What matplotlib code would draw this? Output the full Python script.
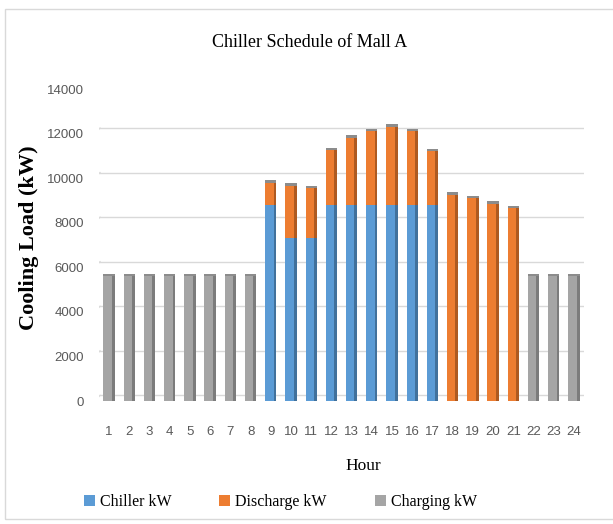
import numpy as np
import matplotlib
matplotlib.use("Agg")
import matplotlib.pyplot as plt
from matplotlib.patches import Rectangle, Patch

# Data (kW)
hours = list(range(1, 25))
chiller_kw = [0, 0, 0, 0, 0, 0, 0, 0,
              8800, 7300, 7300, 8800, 8800, 8800, 8800, 8800, 8800,
              0, 0, 0, 0, 0, 0, 0]
discharge_kw = [0, 0, 0, 0, 0, 0, 0, 0,
                1000, 2350, 2250, 2450, 3000, 3300, 3500, 3300, 2400,
                9250, 9100, 8850, 8650, 0, 0, 0]
charging_kw = [5600, 5600, 5600, 5600, 5600, 5600, 5600, 5600,
               0, 0, 0, 0, 0, 0, 0, 0, 0,
               0, 0, 0, 0, 5600, 5600, 5600]
y_ticks = [0, 2000, 4000, 6000, 8000, 10000, 12000, 14000]

# colours: front face / side face
front = {"Chiller kW": "#5B9BD5", "Discharge kW": "#ED7D31", "Charging kW": "#A5A5A5"}
side = {"Chiller kW": "#41719C", "Discharge kW": "#AE5A21", "Charging kW": "#7C7C7C"}

serif = "Liberation Serif"
tick_font = "Liberation Sans"

fig = plt.figure(figsize=(6.13, 5.24), dpi=100)
fig.patches.append(Rectangle((5 / 613, 5 / 524), 1.2, 510 / 524, transform=fig.transFigure,
                             fill=False, edgecolor="#d9d9d9", linewidth=1.0))

ax = fig.add_axes([0.1615, 0.2347, 0.7912, 0.5953])
x = np.array(hours)
w = 0.42
sw = 0.14

series = [("Chiller kW", chiller_kw), ("Discharge kW", discharge_kw), ("Charging kW", charging_kw)]
bottom = np.zeros(len(hours))
for name, vals in series:
    vals = np.array(vals, dtype=float)
    # front face
    ax.bar(x - sw / 2, vals, width=w, bottom=bottom, color=front[name], linewidth=0, zorder=3)
    # darker side face, gives the 3D look
    ax.bar(x - sw / 2 + w / 2 + sw / 2, vals, width=sw, bottom=bottom, color=side[name],
           linewidth=0, zorder=3)
    bottom = bottom + vals

# small grey cap on top of every column
totals = bottom
ax.bar(x, np.full(len(hours), 120.0), width=w + sw, bottom=totals, color="#8c8c8c",
       linewidth=0, zorder=3)

for yv in y_ticks:
    ax.plot([0.55, 24.6], [yv + 250, yv + 250], color="#d9d9d9", linewidth=1.0, zorder=1)
    ax.plot([0.2, 0.55], [yv - 60, yv + 250], color="#d9d9d9", linewidth=1.0, zorder=1)

ax.set_xlim(0.5, 24.5)
ax.set_ylim(0, 14000)
ax.set_xticks(hours)
ax.set_xticklabels([str(h) for h in hours], fontsize=9.5, color="#595959", family=tick_font)
ax.set_yticks(y_ticks)
ax.set_yticklabels([str(v) for v in y_ticks], fontsize=9.5, color="#595959", family=tick_font)
ax.tick_params(axis="x", length=0, pad=18)
ax.tick_params(axis="y", length=0, pad=11)
for s in ax.spines.values():
    s.set_visible(False)
ax.patch.set_alpha(0)

fig.text(0.505, 0.918, "Chiller Schedule of Mall A", ha="center", va="center",
         fontsize=13, family=serif)
fig.text(0.047, 0.546, "Cooling Load (kW)", ha="center", va="center", rotation=90,
         fontsize=16, fontweight="bold", family=serif)
fig.text(0.592, 0.110, "Hour", ha="center", va="center", fontsize=12.5, family=serif)

handles = [Patch(facecolor=front[n], edgecolor="none") for n, _ in series]
fig.legend(handles, [n for n, _ in series], loc="center", bbox_to_anchor=(0.457, 0.042),
           ncol=3, frameon=False, prop={"family": serif, "size": 11.5},
           handlelength=0.7, handleheight=0.7, handletextpad=0.3, columnspacing=3.0)

fig.savefig("out.png", dpi=100)
